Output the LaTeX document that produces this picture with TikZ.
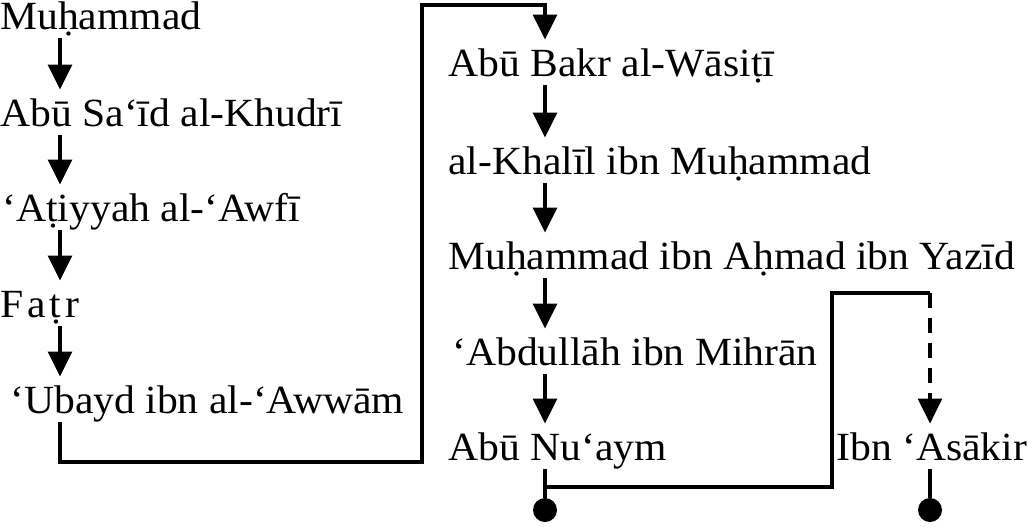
\documentclass[tikz,border=0pt]{standalone}
\usepackage{fontspec}
\setmainfont{Liberation Serif}[FakeStretch=1.04]
\usetikzlibrary{arrows.meta}

\tikzset{
    narrator/.style={anchor=base west, inner sep=0pt, text height=15pt, text depth=4.5pt, font=\fontsize{20}{24}\selectfont},
    link/.style={line width=1.6pt},
    arr/.style={link, -{Triangle[length=12.5pt, width=12pt]}, shorten >=3pt},
    enddot/.style={circle, fill, inner sep=0pt, minimum size=12pt}
}

\begin{document}
\begin{tikzpicture}[x=0.5pt, y=-0.5pt]
        \useasboundingbox (0,0) rectangle (1035,526);
        \coordinate (colL) at (60,0);
        \coordinate (colR) at (545,0);
        \coordinate (colA) at (930,0);
     % First chain
        \node [narrator] (muhammad) at (0,29) {Muḥammad};
        \node [narrator] (khudri) at (0,126) {Abū Sa‘īd al-Khudrī};
        \node [narrator] (awfi) at (2,221) {‘Aṭiyyah al-‘Awfī};
        \node [narrator] (fatr) at (0,317) {F\hspace{0.1em}a\hspace{0.1em}ṭ\hspace{0.1em}r};
        \node [narrator] (ubayd) at (10,413) {‘Ubayd ibn al-‘Awwām};
        \draw [arr] (muhammad.south -| colL) -- (khudri.north -| colL);
        \draw [arr] (khudri.south -| colL) -- (awfi.north -| colL);
        \draw [arr] (awfi.south -| colL) -- (fatr.north -| colL);
        \draw [arr] (fatr.south -| colL) -- (ubayd.north -| colL);
     % Second chain
        \node [narrator] (wasiti) at (448,76) {Abū Bakr al-Wāsiṭī};
        \node [narrator] (khalil) at (448,174) {al-Khalīl ibn Muḥammad};
        \node [narrator] (yazid) at (448,269) {Muḥammad ibn Aḥmad ibn Yazīd};
        \node [narrator] (mihran) at (452,365) {‘Abdullāh ibn Mihrān};
        \node [narrator] (nuaym) at (448,460) {Abū Nu‘aym};
        \node [narrator] (asakir) at (836,460) {Ibn ‘Asākir};
        \draw [arr] (wasiti.south -| colR) -- (khalil.north -| colR);
        \draw [arr] (khalil.south -| colR) -- (yazid.north -| colR);
        \draw [arr] (yazid.south -| colR) -- (mihran.north -| colR);
        \draw [arr] (mihran.south -| colR) -- (nuaym.north -| colR);
     % Link between the chains
        \coordinate (bendL) at (422,462);
        \coordinate (bendT) at (545,5);
        \draw [arr] (ubayd.south -| colL) |- (bendL) |- (bendT) -- (wasiti.north -| colR);
     % End points
        \node [enddot] (dotN) at (545,510) {};
        \node [enddot] (dotA) at (930,510) {};
        \draw [link] (nuaym.south -| colR) -- (dotN);
        \draw [link] (asakir.south -| colA) -- (dotA);
        \coordinate (split) at (545,487);
        \coordinate (turn) at (832,293);
        \draw [link] (split) -| (turn) -- (turn -| colA);
        \draw [arr, dash pattern=on 7.5pt off 5pt] (turn -| colA) -- (asakir.north -| colA);
\end{tikzpicture}
\end{document}
